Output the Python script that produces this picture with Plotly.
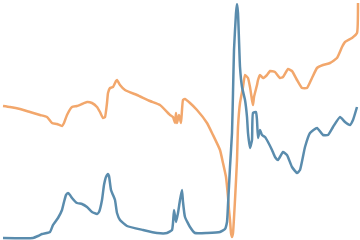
import plotly.graph_objects as go

# Orange series (x, y)
orange_x = [3,10,20,30,40,47,52,57,62,64,67,72,77,82,87,92,97,100,103,105,107,108,110,113,116,117,120,125,137,150,
            160,170,173,175,176,177,179,181,183,185,190,197,207,213,220,223,226,228,229,230,231,232,233,235,237,238,
            240,243,245,248,250,252,253,254,257,258,260,263,267,270,275,280,283,288,292,297,302,307,312,317,323,330,
            337,342,345,352,357,358]
orange_y = [134,133,131,128,125,123,117,116,114,117,125,133,134,136,138,137,133,128,122,123,137,147,152,153,159,160,155,150,145,139,
            135,125,123,117,127,117,125,117,140,141,137,130,117,105,90,77,63,43,30,20,7,3,7,40,80,113,
            137,153,165,162,153,140,135,143,155,160,165,162,165,169,168,162,163,171,169,160,152,152,162,172,175,177,
            182,193,198,202,207,237]

# Blue series
blue_x = [3,33,38,42,50,53,58,62,64,66,68,70,72,77,82,87,92,97,99,102,104,106,108,109,111,113,115,117,120,127,143,157,
          167,172,173,174,176,178,180,182,183,185,190,195,207,220,225,227,228,230,232,233,234,236,237,238,239,240,
          242,245,247,248,250,252,253,256,257,258,260,262,265,268,272,275,278,283,287,292,297,300,305,310,317,323,
          328,333,340,345,350,353,357]
blue_y = [2,2,4,6,8,15,22,30,38,45,47,45,42,37,36,33,28,26,28,40,55,63,66,64,50,45,40,27,20,14,10,7,
          7,10,17,30,18,27,40,50,38,23,13,7,7,8,11,18,35,73,107,147,190,227,236,227,200,173,
          153,140,123,107,92,100,127,128,120,102,110,105,103,98,90,83,80,88,85,73,67,70,93,107,112,105,
          105,113,123,118,115,120,133]

fig = go.Figure()
fig.add_trace(go.Scatter(x=orange_x, y=orange_y, mode="lines",
                         line=dict(color="#f2a76c", width=2.5, shape="spline", smoothing=0.4),
                         showlegend=False))
fig.add_trace(go.Scatter(x=blue_x, y=blue_y, mode="lines",
                         line=dict(color="#5a8cad", width=2.5, shape="spline", smoothing=0.4),
                         showlegend=False))
fig.update_layout(
    width=360, height=240,
    margin=dict(l=0, r=0, t=0, b=0),
    paper_bgcolor="white", plot_bgcolor="white",
    xaxis=dict(visible=False, range=[0, 360]),
    yaxis=dict(visible=False, range=[0, 240]),
)
fig.write_html("out.html")
